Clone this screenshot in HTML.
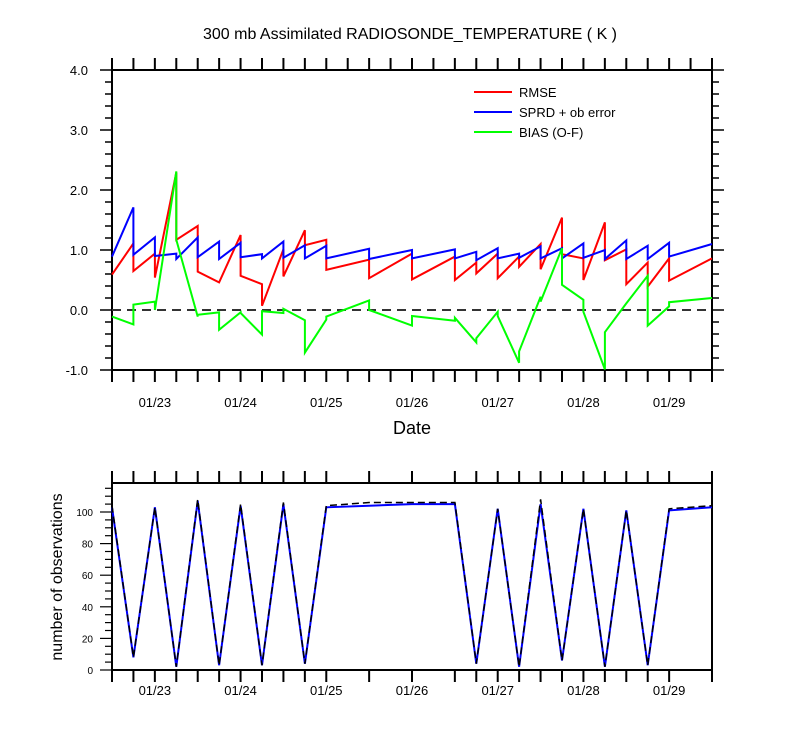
<!DOCTYPE html>
<html><head><meta charset="utf-8"><style>
html,body{margin:0;padding:0;background:#fff;}
svg{display:block;font-family:"Liberation Sans",sans-serif;}
</style></head><body>
<svg id="c" width="800" height="750"></svg>
<script>
// time points in hours since 01/22 12Z
const times=[0,6,12,18,24,30,36,42,48,54,60,72,84,96,102,108,114,120,126,132,138,144,150,156,168];
// each entry: [value arriving at time, value leaving time]
const rmse=[[0.59,0.59],[1.11,0.65],[0.94,0.54],[2.29,1.17],[1.40,0.64],[0.46,0.46],[1.25,0.57],[0.43,0.07],[1.01,0.56],[1.33,1.08],[1.17,0.67],[0.84,0.53],[0.94,0.51],[0.89,0.50],[0.79,0.61],[0.94,0.53],[0.89,0.72],[1.10,0.68],[1.54,0.93],[0.86,0.50],[1.46,0.83],[1.01,0.43],[0.79,0.39],[0.86,0.49],[0.86,0.86]];
const sprd=[[0.89,0.89],[1.71,0.92],[1.21,0.90],[0.94,0.85],[1.21,0.88],[1.14,0.85],[1.12,0.88],[0.93,0.86],[1.14,0.87],[1.08,0.86],[1.07,0.86],[1.02,0.85],[1.00,0.86],[1.01,0.86],[0.97,0.83],[1.03,0.86],[0.94,0.87],[1.06,0.86],[1.03,0.86],[1.11,0.87],[1.00,0.85],[1.16,0.85],[1.07,0.85],[1.12,0.89],[1.10,1.10]];
const bias=[[-0.11,-0.11],[-0.24,0.09],[0.14,0.0],[2.31,1.17],[-0.11,-0.08],[-0.04,-0.33],[-0.04,-0.05],[-0.41,-0.02],[-0.05,0.02],[-0.17,-0.71],[-0.16,-0.11],[0.16,0.0],[-0.26,-0.10],[-0.18,-0.13],[-0.54,-0.47],[-0.03,-0.10],[-0.88,-0.69],[0.22,0.14],[1.03,0.42],[0.17,-0.03],[-0.99,-0.37],[0.11,0.11],[0.57,-0.26],[0.06,0.13],[0.20,0.20]];
const countTimes=[0,6,12,18,24,30,36,42,48,54,60,72,84,96,102,108,114,120,126,132,138,144,150,156,168];
const countAssim=[103,8,103,2,107,3,104,3,105,4,103,104,105,105,4,102,2,105,6,102,2,101,3,101,103];
const countTotal=[104,8,103,2,108,3,105,3,106,4,104,106,106,106,4,102,2,108,6,102,2,101,3,102,104];
const dateLabels=["01/23","01/24","01/25","01/26","01/27","01/28","01/29"];
const dateHours=[12,36,60,84,108,132,156];
const yTicks=[-1,0,1,2,3,4];
const cTicks=[0,20,40,60,80,100];

const NS="http://www.w3.org/2000/svg",svg=document.getElementById('c');
function el(t,a,txt){const e=document.createElementNS(NS,t);for(const k in a)e.setAttribute(k,a[k]);if(txt!=null)e.textContent=txt;svg.appendChild(e);return e;}
const X0=112,X1=712;
const xs=h=>X0+(X1-X0)*h/168;
const ys=v=>310-60*v;
const yc=v=>670-1.58*v;

let t=el('text',{x:410,y:39,'text-anchor':'middle','font-size':16},'300 mb Assimilated RADIOSONDE_TEMPERATURE ( K )');



// top frame
let f=el('rect',{x:X0,y:70,width:X1-X0,height:300,fill:'none',stroke:'#000','stroke-width':2});


for(let h=0;h<=168;h+=6){const x=xs(h);
 el('line',{x1:x,y1:70,x2:x,y2:58,stroke:'#000','stroke-width':2});
 el('line',{x1:x,y1:370,x2:x,y2:382,stroke:'#000','stroke-width':2});}
for(let v=-1;v<=4.001;v+=0.2){const y=ys(v),maj=Math.abs(v-Math.round(v))<0.01,L=maj?12:7;
 el('line',{x1:X0,y1:y,x2:X0-L,y2:y,stroke:'#000','stroke-width':1.5});
 el('line',{x1:X1,y1:y,x2:X1+L,y2:y,stroke:'#000','stroke-width':1.5});}
yTicks.forEach(v=>{const e=el('text',{x:88,y:ys(v)+5,'text-anchor':'end','font-size':13},v.toFixed(1));
 
 });
dateLabels.forEach((d,i)=>{const e=el('text',{x:xs(dateHours[i]),y:407,'text-anchor':'middle','font-size':13},d);
 
 
 const e2=el('text',{x:xs(dateHours[i]),y:695,'text-anchor':'middle','font-size':13},d);
 
 });
t=el('text',{x:412,y:434,'text-anchor':'middle','font-size':18},'Date');


let z=el('line',{x1:X0,y1:ys(0),x2:X1,y2:ys(0),stroke:'#333','stroke-width':2,'stroke-dasharray':'9,6'});



function pathPairs(arr){let p=[];arr.forEach((v,i)=>{const x=xs(times[i]);p.push(x.toFixed(1)+','+ys(v[0]).toFixed(1));p.push(x.toFixed(1)+','+ys(v[1]).toFixed(1));});return 'M'+p.join('L');}
[[rmse,'#f00','rmse-line'],[sprd,'#00f','sprd-line'],[bias,'#0f0','bias-line']].forEach(s=>{
 const e=el('path',{d:pathPairs(s[0]),fill:'none',stroke:s[1],'stroke-width':2,'stroke-linejoin':'miter'});
 
 });

[['RMSE','#f00'],['SPRD + ob error','#00f'],['BIAS (O-F)','#0f0']].forEach((l,i)=>{const y=92+20*i;
 const g=el('line',{x1:474,y1:y,x2:512,y2:y,stroke:l[1],'stroke-width':2});
 
 
 const e=el('text',{x:519,y:y+5,'font-size':13},l[0]);
 
 });

// bottom chart
f=el('rect',{x:X0,y:483,width:X1-X0,height:187,fill:'none',stroke:'#000','stroke-width':2});


countTimes.forEach(h=>{const x=xs(h);
 el('line',{x1:x,y1:483,x2:x,y2:471,stroke:'#000','stroke-width':2});
 el('line',{x1:x,y1:670,x2:x,y2:682,stroke:'#000','stroke-width':2});});
for(let v=0;v<=115;v+=5){const y=yc(v),maj=v%20==0,L=maj?12:7;
 el('line',{x1:X0,y1:y,x2:X0-L,y2:y,stroke:'#000','stroke-width':1.2});}
cTicks.forEach(v=>{const e=el('text',{x:93,y:yc(v)+4,'text-anchor':'end','font-size':10},v);
 
 });
t=el('text',{x:0,y:0,'text-anchor':'middle','font-size':16,transform:'translate(62,577) rotate(-90)'},'number of observations');


function cpath(a){return 'M'+a.map((v,i)=>xs(countTimes[i]).toFixed(1)+','+yc(v).toFixed(1)).join('L');}
let b=el('path',{d:cpath(countAssim),fill:'none',stroke:'#00f','stroke-width':2});


b=el('path',{d:cpath(countTotal),fill:'none',stroke:'#000','stroke-width':1.5,'stroke-dasharray':'7,4'});


</script>
</body></html>
